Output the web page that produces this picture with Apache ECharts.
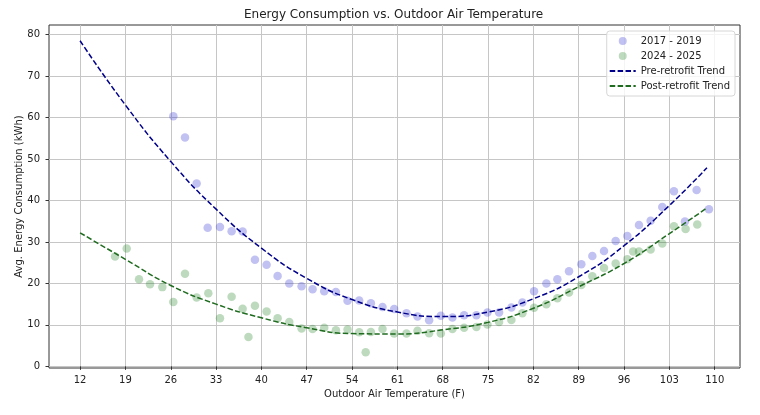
<!DOCTYPE html>
<html>
<head>
<meta charset="utf-8">
<script src="https://cdn.jsdelivr.net/npm/echarts@6.0.0/dist/echarts.min.js"></script>
<style>
  html, body { margin: 0; padding: 0; background: #fff; }
  #chart { width: 760px; height: 415px; }
</style>
</head>
<body>
<div id="chart"></div>
<script>
// 2017 - 2019 (pre-retrofit) averages
const preTemps = [26.4, 28.2, 30.0, 31.7, 33.6, 35.4, 37.1, 39.0, 40.8, 42.5, 44.3, 46.2, 47.9, 49.7, 51.5, 53.3,
  55.1, 56.9, 58.7, 60.5, 62.4, 64.1, 65.9, 67.7, 69.5, 71.3, 73.2, 74.9, 76.7, 78.6, 80.3, 82.1, 84.0, 85.7,
  87.5, 89.4, 91.1, 92.9, 94.7, 96.5, 98.3, 100.1, 101.9, 103.7, 105.4, 107.2, 109.1];
const preEnergy = [60.3, 55.2, 44.1, 33.4, 33.6, 32.6, 32.5, 25.7, 24.5, 21.8, 20.0, 19.3, 18.6, 18.1, 17.9, 15.8,
  15.9, 15.2, 14.3, 13.8, 12.8, 12.0, 11.1, 12.2, 11.8, 12.3, 12.3, 13.0, 13.0, 14.2, 15.4, 18.1, 20.0, 21.0,
  22.9, 24.6, 26.6, 27.8, 30.2, 31.4, 34.1, 35.1, 38.4, 42.2, 34.9, 42.5, 37.9];

// 2024 - 2025 (post-retrofit) averages
const postTemps = [17.4, 19.2, 21.1, 22.8, 24.7, 26.4, 28.2, 30.0, 31.8, 33.6, 35.4, 37.1, 38.0, 39.0, 40.8, 42.5,
  44.3, 46.2, 47.9, 49.7, 51.5, 53.3, 55.1, 56.1, 56.9, 58.7, 60.5, 62.4, 64.1, 65.9, 67.7, 69.5, 71.3, 73.2,
  74.9, 76.7, 78.6, 80.3, 82.1, 84.0, 85.7, 87.5, 89.4, 91.1, 92.9, 94.7, 96.5, 97.4, 98.3, 100.1, 101.9,
  103.7, 105.5, 107.3];
const postEnergy = [26.5, 28.4, 21.0, 19.8, 19.1, 15.5, 22.3, 16.6, 17.6, 11.6, 16.8, 13.9, 7.1, 14.6, 13.2, 11.6,
  10.7, 9.1, 9.0, 9.3, 8.7, 8.9, 8.2, 3.4, 8.3, 9.0, 7.9, 7.9, 8.6, 8.0, 7.9, 9.0, 9.3, 9.5,
  10.1, 10.7, 11.2, 12.8, 14.1, 15.0, 16.4, 17.8, 19.6, 21.7, 23.7, 24.8, 25.8, 27.7, 27.7, 28.2, 29.6,
  33.8, 33.1, 34.2];

// trend curves
const trendTemps = [12, 19, 26, 33, 40, 47, 54, 61, 68, 75, 82, 89, 96, 103, 108.8];
const preTrend = [78.5, 63.0, 49.4, 37.9, 28.5, 21.2, 16.1, 13.1, 12.0, 13.1, 16.3, 21.6, 29.1, 38.8, 47.9];
const postTrend = [32.2, 25.8, 19.5, 15.0, 11.7, 9.3, 7.9, 7.8, 8.8, 10.6, 14.0, 19.2, 24.8, 32.0, 38.2];

const xTicks = [12, 19, 26, 33, 40, 47, 54, 61, 68, 75, 82, 89, 96, 103, 110];
const yTicks = [0, 10, 20, 30, 40, 50, 60, 70, 80];

const FONT = 'DejaVu Sans';
const pairs = (xs, ys) => xs.map((x, i) => [x, ys[i]]);

const axisCommon = {
  axisLine: { show: false },
  axisTick: { show: true, length: 3.5, lineStyle: { color: '#333', width: 1 } },
  axisLabel: { color: '#222', fontSize: 10, fontFamily: FONT },
  splitLine: { show: true, lineStyle: { color: '#c6c6c6', width: 1 } },
  nameTextStyle: { color: '#222', fontSize: 10, fontFamily: FONT },
  nameMoveOverlap: false
};

const chart = echarts.init(document.getElementById('chart'));

chart.setOption({
  animation: false,
  title: {
    text: 'Energy Consumption vs. Outdoor Air Temperature',
    left: 244,
    top: 9,
    padding: 0,
    textStyle: { color: '#222', fontSize: 12, fontWeight: 'normal', fontFamily: FONT }
  },
  legend: {
    orient: 'vertical',
    right: 25,
    top: 31,
    padding: [5, 5, 5, 2],
    itemGap: 5,
    itemWidth: 26,
    itemHeight: 8,
    backgroundColor: 'rgba(255,255,255,0.8)',
    borderColor: '#d6d6d6',
    borderWidth: 1,
    borderRadius: 3,
    textStyle: { color: '#222', fontSize: 10, fontFamily: FONT },
    data: [
      { name: '2017 - 2019', icon: 'circle' },
      { name: '2024 - 2025', icon: 'circle' },
      // line entries: dashed stroke only, no marker
      { name: 'Pre-retrofit Trend', itemStyle: { opacity: 0 } },
      { name: 'Post-retrofit Trend', itemStyle: { opacity: 0 } }
    ]
  },
  grid: {
    left: 49, top: 25, right: 20, bottom: 47,
    show: true, borderColor: '#333', borderWidth: 1
  },
  xAxis: Object.assign({}, axisCommon, {
    type: 'value',
    min: 7.2,
    max: 113.9,
    name: 'Outdoor Air Temperature (F)',
    nameLocation: 'middle',
    nameGap: 21,
    axisTick: Object.assign({}, axisCommon.axisTick, { customValues: xTicks }),
    axisLabel: Object.assign({}, axisCommon.axisLabel, { customValues: xTicks, margin: 7 })
  }),
  yAxis: Object.assign({}, axisCommon, {
    type: 'value',
    min: -0.4,
    max: 82.3,
    name: 'Avg. Energy Consumption (kWh)',
    nameLocation: 'middle',
    nameGap: 25,
    axisTick: Object.assign({}, axisCommon.axisTick, { customValues: yTicks }),
    axisLabel: Object.assign({}, axisCommon.axisLabel, { customValues: yTicks, margin: 9 })
  }),
  series: [
    {
      name: '2017 - 2019',
      type: 'scatter',
      symbolSize: 8.5,
      itemStyle: { color: 'rgba(40,40,210,0.36)' },
      data: pairs(preTemps, preEnergy)
    },
    {
      name: '2024 - 2025',
      type: 'scatter',
      symbolSize: 8.5,
      itemStyle: { color: 'rgba(20,120,20,0.34)' },
      data: pairs(postTemps, postEnergy)
    },
    {
      name: 'Pre-retrofit Trend',
      type: 'line',
      smooth: true,
      symbol: 'none',
      itemStyle: { color: '#00008b' },
      lineStyle: { color: '#00008b', width: 1.5, type: [5.5, 2.4] },
      data: pairs(trendTemps, preTrend)
    },
    {
      name: 'Post-retrofit Trend',
      type: 'line',
      smooth: true,
      symbol: 'none',
      itemStyle: { color: '#1f6b1f' },
      lineStyle: { color: '#1f6b1f', width: 1.5, type: [5.5, 2.4] },
      data: pairs(trendTemps, postTrend)
    }
  ]
});
</script>
</body>
</html>
